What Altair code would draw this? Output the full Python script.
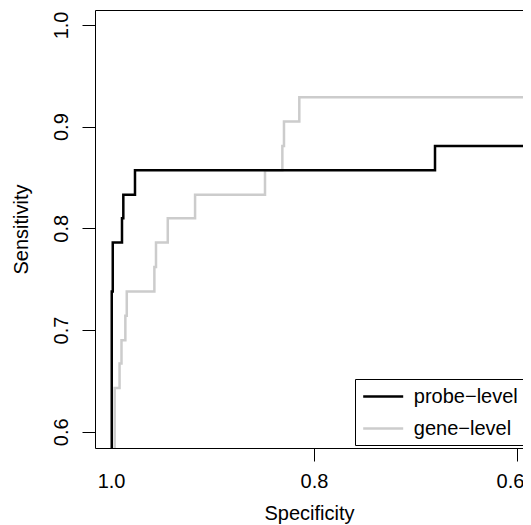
import altair as alt
import pandas as pd

# ---- data ----
series_names = ["probe\u2212level", "gene\u2212level"]

probe_spec = [0.9993, 0.9993, 0.9983, 0.9983, 0.9892, 0.9892, 0.9879, 0.9879,
              0.9764, 0.9764, 0.6808, 0.6808, 0.55]
probe_sens = [0.50, 0.738, 0.738, 0.786, 0.786, 0.810, 0.810, 0.833,
              0.833, 0.857, 0.857, 0.881, 0.881]

gene_spec = [0.9964, 0.9964, 0.9916, 0.9916, 0.9897, 0.9897, 0.9859, 0.9859,
             0.9845, 0.9845, 0.9573, 0.9573, 0.9557, 0.9557, 0.9441, 0.9441,
             0.9172, 0.9172, 0.8483, 0.8483, 0.8312, 0.8312, 0.8296, 0.8296,
             0.8145, 0.8145, 0.55]
gene_sens = [0.50, 0.643, 0.643, 0.667, 0.667, 0.690, 0.690, 0.714,
             0.714, 0.738, 0.738, 0.762, 0.762, 0.786, 0.786, 0.810,
             0.810, 0.833, 0.833, 0.857, 0.857, 0.881, 0.881, 0.905,
             0.905, 0.929, 0.929]

x_ticks = [1.0, 0.8, 0.6]
y_ticks = [0.6, 0.7, 0.8, 0.9, 1.0]

probe = pd.DataFrame({"spec": probe_spec, "sens": probe_sens,
                      "series": series_names[0], "idx": list(range(len(probe_spec)))})
gene = pd.DataFrame({"spec": gene_spec, "sens": gene_sens,
                     "series": series_names[1], "idx": list(range(len(gene_spec)))})

FONT = "Liberation Sans"
FS = 20

xscale = alt.Scale(domain=[0.5941, 1.0158], reverse=True, nice=False, zero=False)
yscale = alt.Scale(domain=[0.584, 1.0147], nice=False, zero=False)
cscale = alt.Scale(domain=series_names, range=["#000000", "#cccccc"])

yaxis = alt.Axis(values=y_ticks, format=".1f", tickSize=13, labelPadding=15,
                 labelAngle=270, labelAlign="center", labelBaseline="alphabetic",
                 labelFontSize=FS, labelFont=FONT, labelColor="black", labelOverlap=False,
                 title="Sensitivity", titleFont=FONT, titleFontSize=FS,
                 titleFontWeight="normal", titleColor="black", titleAngle=270,
                 titleAlign="center", titleBaseline="alphabetic", titleX=-67.5, titleY=219,
                 grid=False, domainColor="black", tickColor="black",
                 domainWidth=1, tickWidth=1)

xaxis_bottom = alt.Axis(orient="bottom", values=x_ticks, format=".1f", tickSize=13,
                        labelPadding=26, labelBaseline="alphabetic", labelAlign="center",
                        labelFontSize=FS, labelFont=FONT, labelColor="black",
                        labelFlush=False, labelOverlap=False,
                        labelOffset={"condition": {"test": "datum.value < 0.61", "value": -7},
                                     "value": 0},
                        title="Specificity", titleFont=FONT, titleFontSize=FS,
                        titleFontWeight="normal", titleColor="black",
                        titleBaseline="alphabetic", titleAlign="center", titleY=71,
                        grid=False, domainColor="black", domainWidth=1, tickWidth=1,
                        tickColor={"condition": {"test": "datum.value > 0.99", "value": "transparent"},
                                   "value": "black"})

xaxis_top = alt.Axis(orient="top", labels=False, ticks=False, title=None, grid=False,
                     domain=True, domainColor="black", domainWidth=1)

legend = alt.Legend(orient="none", legendX=260, legendY=369, title=None,
                    symbolType="M-2,0H2", symbolSize=400, symbolStrokeWidth=2.5,
                    symbolOffset=10.7, labelOffset=19.1, padding=6, rowPadding=10,
                    labelFont=FONT, labelFontSize=FS, labelColor="black", labelLimit=0,
                    strokeColor="black", fillColor="white")

gray_layer = alt.Chart(gene).mark_line(clip=True, strokeWidth=2.5).encode(
    x=alt.X("spec:Q", scale=xscale, axis=xaxis_top),
    y=alt.Y("sens:Q", scale=yscale, axis=yaxis),
    color=alt.Color("series:N", scale=cscale, legend=legend),
    order=alt.Order("idx:Q"),
)

black_layer = alt.Chart(probe).mark_line(clip=True, strokeWidth=2.5).encode(
    x=alt.X("spec:Q", scale=xscale, axis=xaxis_bottom),
    y=alt.Y("sens:Q", scale=yscale, axis=yaxis),
    color=alt.Color("series:N", scale=cscale, legend=legend),
    order=alt.Order("idx:Q"),
)

chart = alt.layer(gray_layer, black_layer).resolve_axis(x="independent").properties(
    width=428, height=438,
    autosize=alt.AutoSizeParams(type="none"),
    padding={"left": 87, "top": 2, "right": 0, "bottom": 77},
    background="white",
).configure_view(stroke=None)

chart.save("out.html", embed_options={"renderer": "svg", "actions": False})
